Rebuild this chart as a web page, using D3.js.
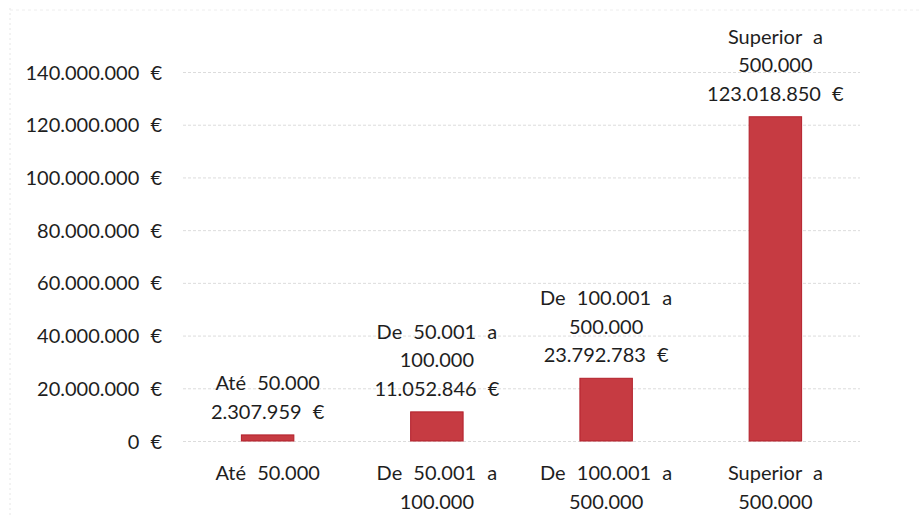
<!DOCTYPE html>
<html><head><meta charset="utf-8">
<script src="https://cdn.jsdelivr.net/npm/d3@7"></script>
<style>body{margin:0;background:#fff}svg{display:block}text{font-family:Lato,"Open Sans",sans-serif;fill:#1e1e1e;word-spacing:6px}</style>
</head><body><svg id="c" width="920" height="515"></svg>
<script>
const categories = [["Até 50.000"], ["De 50.001 a", "100.000"], ["De 100.001 a", "500.000"], ["Superior a", "500.000"]];
const values = [2307959, 11052846, 23792783, 123018850];
const valueLabels = ["2.307.959 €", "11.052.846 €", "23.792.783 €", "123.018.850 €"];
const yTicks = [0, 20000000, 40000000, 60000000, 80000000, 100000000, 120000000, 140000000];
const yTickLabels = ["0 €", "20.000.000 €", "40.000.000 €", "60.000.000 €", "80.000.000 €", "100.000.000 €", "120.000.000 €", "140.000.000 €"];

const svg = d3.select("#c");
const fs = 20, lh = 28.5;
const x = d3.scaleBand().domain(d3.range(values.length)).range([183, 860]).paddingInner(0.69).paddingOuter(0.345);
const y = d3.scaleLinear().domain([0, 140000000]).range([441, 72]);

// faint borders
svg.append("line").attr("x1",10).attr("x2",10).attr("y1",8).attr("y2",515).attr("stroke","#e6e6e6").attr("stroke-dasharray","2,3");
svg.append("line").attr("x1",10).attr("x2",920).attr("y1",10).attr("y2",10).attr("stroke","#eeeeee").attr("stroke-dasharray","3,3");

const yAxis = d3.axisLeft(y).tickValues(yTicks).tickSize(-(860-183)).tickFormat((d,i)=>yTickLabels[i]).tickPadding(21);
const ga = svg.append("g").attr("transform","translate(183,0)").call(yAxis);
ga.select(".domain").remove();
ga.selectAll(".tick line").attr("stroke","#dcdcdc").attr("stroke-dasharray","3,2");
ga.selectAll(".tick text").attr("font-size",fs).attr("font-family","Lato").attr("fill","#1e1e1e").attr("dy","0.35em");

svg.selectAll("rect.bar").data(values).join("rect").attr("class","bar")
  .attr("x",(d,i)=>x(i)).attr("width",x.bandwidth())
  .attr("y",d=>y(d)).attr("height",d=>y(0)-y(d))
  .attr("fill","#c63b42").attr("stroke","#b3202b").attr("stroke-width",1);

// value labels
values.forEach((v,i)=>{
  const lines = categories[i].concat([valueLabels[i]]);
  const cx = x(i)+x.bandwidth()/2;
  const base = y(v) - 16;
  const t = svg.append("text").attr("text-anchor","middle").attr("font-size",fs);
  lines.forEach((l,j)=>{
    t.append("tspan").attr("x",cx).attr("y",base-(lines.length-1-j)*lh).text(l);
  });
});

// x-axis labels
categories.forEach((c,i)=>{
  const cx = x(i)+x.bandwidth()/2;
  const t = svg.append("text").attr("text-anchor","middle").attr("font-size",fs);
  c.forEach((l,j)=>t.append("tspan").attr("x",cx).attr("y",480+j*lh).text(l));
});
</script></body></html>
